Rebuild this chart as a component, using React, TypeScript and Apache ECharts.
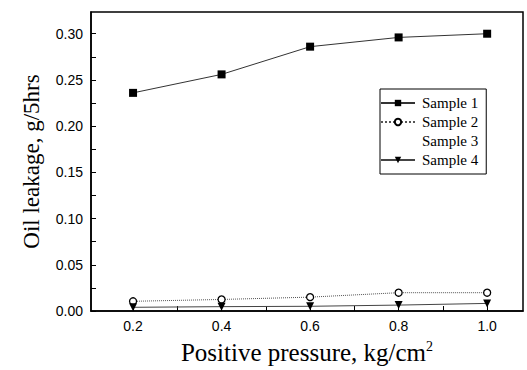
import React, { useEffect, useRef } from "react";
import * as echarts from "echarts";

const pressures = [0.2, 0.4, 0.6, 0.8, 1.0];
const sample1 = [0.236, 0.256, 0.286, 0.296, 0.3];
const sample2 = [0.0105, 0.0125, 0.015, 0.0198, 0.0198];
const sample3: number[] = [];
const sample4 = [0.004, 0.0047, 0.0051, 0.0064, 0.0082];
const xTicks = [0.2, 0.4, 0.6, 0.8, 1.0];
const xMinorTicks = [0.3, 0.5, 0.7, 0.9];
const yTicks = [0, 0.05, 0.1, 0.15, 0.2, 0.25, 0.3];
const yMinorTicks = [0.025, 0.075, 0.125, 0.175, 0.225, 0.275];

const toPairs = (v: number[]) => v.map((y, i) => [pressures[i], y]);

export default function App() {
  const ref = useRef<HTMLDivElement>(null);
  useEffect(() => {
    document.body.style.margin = "0";
    const chart = echarts.init(ref.current!, null, { renderer: "svg" });
    const serif = "'Liberation Serif', 'Times New Roman', serif";
    const sans = "'Liberation Sans', Arial, sans-serif";
    chart.setOption({
      animation: false,
      backgroundColor: "#fff",
      grid: { left: 91, top: 12, width: 432, height: 305, containLabel: false, show: true, borderColor: "#000", borderWidth: 1.5 },
      legend: {
        orient: "vertical",
        left: 380,
        top: 89,
        width: 105,
        padding: [6, 8, 6, 0],
        itemGap: 3,
        itemWidth: 34,
        itemHeight: 8,
        backgroundColor: "#fff",
        borderColor: "#000",
        borderWidth: 1,
        borderRadius: 0,
        textStyle: { fontFamily: serif, fontSize: 15, lineHeight: 16, color: "#000", padding: [0, 0, 0, 2] },
        data: [
          { name: "Sample 1" },
          { name: "Sample 2" },
          { name: "Sample 3", icon: "none", itemStyle: { opacity: 0 }, lineStyle: { opacity: 0 } },
          { name: "Sample 4" },
        ],
      },
      xAxis: {
        type: "value",
        min: 0.105,
        max: 1.081,
        name: "Positive pressure, kg/cm{sup|2}",
        nameLocation: "middle",
        nameGap: 28,
        nameTextStyle: {
          fontFamily: serif,
          fontSize: 25,
          color: "#000",
          rich: { sup: { fontFamily: serif, fontSize: 14, color: "#000", verticalAlign: "bottom", padding: [0, 0, 13, 0] } },
        },
        axisLine: { show: true, lineStyle: { color: "#000", width: 1.5 } },
        axisTick: { show: true, inside: true, length: 5, customValues: [...xTicks, ...xMinorTicks], lineStyle: { color: "#000" } },
        axisLabel: {
          customValues: xTicks,
          formatter: (v: number) => v.toFixed(1),
          fontFamily: sans,
          fontSize: 14,
          color: "#000",
          margin: 8,
        },
        splitLine: { show: false },
      },
      yAxis: {
        type: "value",
        min: 0,
        max: 0.3235,
        name: "Oil leakage, g/5hrs",
        nameLocation: "middle",
        nameGap: 48,
        nameTextStyle: { fontFamily: serif, fontSize: 23, color: "#000" },
        axisLine: { show: true, lineStyle: { color: "#000", width: 1.5 } },
        axisTick: { show: true, inside: true, length: 5, customValues: [...yTicks, ...yMinorTicks], lineStyle: { color: "#000" } },
        axisLabel: {
          customValues: yTicks,
          formatter: (v: number) => v.toFixed(2),
          fontFamily: sans,
          fontSize: 14,
          color: "#000",
          margin: 8,
        },
        splitLine: { show: false },
      },
      series: [
        {
          name: "Sample 1",
          type: "line",
          data: toPairs(sample1),
          symbol: "rect",
          symbolSize: 8,
          itemStyle: { color: "#000" },
          lineStyle: { color: "#333", width: 1 },
        },
        {
          name: "Sample 2",
          type: "line",
          data: toPairs(sample2),
          symbol: "circle",
          symbolSize: 7,
          itemStyle: { color: "#fff", borderColor: "#000", borderWidth: 1.3 },
          lineStyle: { color: "#555", width: 1, type: "dotted" },
        },
        {
          name: "Sample 3",
          type: "line",
          data: toPairs(sample3),
          symbol: "none",
          itemStyle: { color: "#000" },
          lineStyle: { color: "#000", width: 1 },
        },
        {
          name: "Sample 4",
          type: "line",
          data: toPairs(sample4),
          symbol: "triangle",
          symbolRotate: 180,
          symbolSize: 8,
          itemStyle: { color: "#000" },
          lineStyle: { color: "#444", width: 1 },
        },
      ],
    });
    return () => chart.dispose();
  }, []);
  return <div ref={ref} style={{ width: 527, height: 370 }} />;
}
